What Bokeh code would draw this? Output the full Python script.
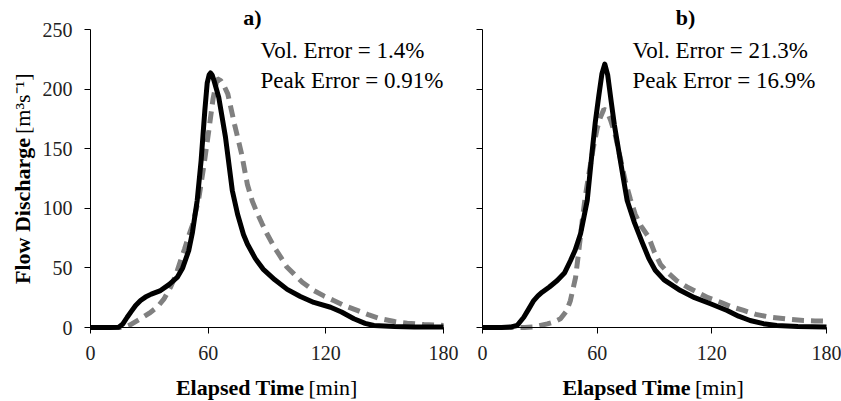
import math
from bokeh.plotting import figure
from bokeh.models import Label, Range1d, FixedTicker
from bokeh.layouts import row
from bokeh.embed import file_html
from bokeh.resources import INLINE

# ---------------- data ----------------
x_ticks = [0, 60, 120, 180]
y_ticks = [0, 50, 100, 150, 200, 250]

a_obs_t = [0, 10, 14.4, 16.5, 18.7, 21, 23, 25.5, 28, 31, 35.7, 40, 44.2, 47, 50.1, 52, 54.4, 56.4, 58.3,
           59.5, 60.5, 61.2, 62, 63, 65.4, 68.8, 72.3, 75, 78, 80, 84, 88, 94, 100.3, 107, 113.9, 122.4,
           128, 134.3, 140, 144.5, 155, 165, 180]
a_obs_q = [0, 0, 0.3, 3, 8.6, 14, 18.5, 22.6, 25.5, 28, 31, 36, 42, 50, 64.6, 80, 106.5, 140, 182,
           205, 212, 213.5, 212, 207, 193, 160, 115, 95, 78, 70, 58, 49, 40, 32, 26, 21, 17,
           13, 7.3, 3.5, 1.7, 0.8, 0.5, 0.5]

a_sim_t = [0, 14, 17, 20, 25.5, 30, 34, 37.5, 40.8, 43.5, 45.9, 48, 50.1, 52, 55.2, 58, 60.3, 62.5, 64.6,
           66.5, 68, 70, 73.5, 77, 80, 82.5, 85, 87.5, 90, 93.5, 97, 100, 103.7, 108, 113.9, 119, 124,
           130, 136, 142, 148, 155, 161.5, 170, 180]
a_sim_q = [0, 0, 0, 2, 7.3, 12, 17, 24, 33.8, 44, 56, 66, 77, 86, 108, 138, 165, 192, 208.6,
           207, 203, 196, 170, 146, 120, 106, 96, 87, 78.6, 68, 59, 51, 45, 38, 31, 26.5, 22.6,
           18, 14.3, 10.5, 7.3, 5, 3.6, 2.5, 1.7]

b_obs_t = [0, 10, 15, 18.1, 21.6, 24, 26.8, 29, 31.2, 35, 39.1, 43, 46, 48.5, 51.3, 53, 54.8, 57.4, 59,
           60.9, 62.5, 64, 65.5, 67.3, 69, 71.3, 73.5, 75.7, 79.5, 83.4, 87, 90.4, 95, 103.6, 111, 119.3,
           128, 134, 140, 147, 154, 165, 180]
b_obs_q = [0, 0, 0.5, 1.7, 8.6, 15, 22.6, 26.5, 29.6, 34, 39.4, 46, 56, 65, 78.6, 92, 106.5, 148, 172,
           195, 213, 221, 212, 190, 170, 148, 127, 106.5, 88, 72, 58, 48, 40, 31, 25, 19.9,
           14.3, 9.5, 5.9, 3.2, 1.7, 0.8, 0.5]

b_sim_t = [0, 20, 22, 27, 33.9, 37, 40.8, 44, 46, 48.7, 50.4, 52.2, 53.7, 56, 58, 60, 61.6, 63.5, 65, 67,
           69.4, 72, 74.7, 77.3, 79.9, 83, 86.9, 90, 93.1, 97, 101.9, 107, 112.4, 118, 124.6, 130, 136.7,
           143, 150.7, 160, 168, 174, 180]
b_sim_q = [0, 0, 0, 0.5, 3, 4.5, 7.3, 14, 22.6, 42, 64.6, 89.8, 109, 132, 151, 167, 176, 183, 182, 174,
           162, 143, 123, 108, 95, 85, 76, 63, 53, 46, 39, 34, 29.6, 25, 21.2, 17.5, 14.3,
           11, 8.6, 7, 5.9, 5.5, 5.3]

a_texts = ["Vol. Error = 1.4%", "Peak Error = 0.91%"]
b_texts = ["Vol. Error = 21.3%", "Peak Error = 16.9%"]

SERIF = "Liberation Serif"
H = 401
PLOT_TOP, PLOT_BOTTOM = 29, 327          # pixel rows of y=250 and y=0
SY = (PLOT_BOTTOM - PLOT_TOP) / 250.0


def make_panel(width, left_px, right_px, obs_t, obs_q, sim_t, sim_q, show_y_labels):
    sx = (right_px - left_px) / 180.0
    xr = Range1d(-left_px / sx, (width - left_px) / sx)
    yr = Range1d(-(H - PLOT_BOTTOM) / SY, PLOT_BOTTOM / SY)
    p = figure(width=width, height=H, x_range=xr, y_range=yr,
               output_backend="svg", toolbar_location=None,
               min_border_left=0, min_border_right=0, min_border_top=0, min_border_bottom=0)
    p.outline_line_color = None
    p.xgrid.grid_line_color = None
    p.ygrid.grid_line_color = None
    p.background_fill_color = "white"
    p.border_fill_color = "white"
    p.xaxis.fixed_location = 0
    p.yaxis.fixed_location = 0
    p.xaxis.bounds = (0, 180)
    p.yaxis.bounds = (0, 250)
    for ax in (p.xaxis[0], p.yaxis[0]):
        ax.axis_line_color = "black"
        ax.axis_line_width = 1
        ax.major_tick_line_color = "black"
        ax.major_tick_in = 0
        ax.major_tick_out = 6
        ax.minor_tick_line_color = None
        ax.major_label_text_font = SERIF
        ax.major_label_text_font_size = "20px"
        ax.major_label_text_color = "#222222"
    p.xaxis.ticker = FixedTicker(ticks=x_ticks)
    p.yaxis.ticker = FixedTicker(ticks=y_ticks)
    p.xaxis.major_label_standoff = 12
    if show_y_labels:
        p.yaxis.major_label_standoff = 12
    else:
        p.yaxis.major_label_overrides = {v: "" for v in y_ticks}
        p.yaxis.major_label_standoff = 0

    p.line(sim_t, sim_q, line_color="#808080", line_width=5, line_dash="12 7")
    p.line(obs_t, obs_q, line_color="black", line_width=5, line_join="round")
    return p, sx


pa, sxa = make_panel(460, 90, 443, a_obs_t, a_obs_q, a_sim_t, a_sim_q, True)
pb, sxb = make_panel(381, 22, 366, b_obs_t, b_obs_q, b_sim_t, b_sim_q, False)


def lab(p, sx, left_px, px, py, text, size, bold=False, align="left", angle=0.0):
    # px, py: pixel position inside the figure (from its top-left corner)
    p.add_layout(Label(x=(px - left_px) / sx, y=(PLOT_BOTTOM - py) / SY, text=text,
                       text_font=SERIF, text_font_size=size,
                       text_font_style="bold" if bold else "normal", text_align=align,
                       text_baseline="middle", angle=angle, text_color="black"))


# panel a
lab(pa, sxa, 90, 252, 17, "a)", "22px", bold=True, align="center")
lab(pa, sxa, 90, 260, 50, a_texts[0], "23px")
lab(pa, sxa, 90, 260, 80, a_texts[1], "23px")
lab(pa, sxa, 90, 304, 387, "Elapsed Time", "22px", bold=True, align="right")
lab(pa, sxa, 90, 308, 387, "[min]", "22px", align="left")
lab(pa, sxa, 90, 22, 137.5, "Flow Discharge", "22px", bold=True, align="right", angle=math.pi / 2)
lab(pa, sxa, 90, 22, 133.5, "[m\u00b3s\u207b\u00b9]", "22px", align="left", angle=math.pi / 2)

# panel b (pixel x measured inside the right figure, which starts at 460)
lab(pb, sxb, 22, 685 - 460, 17, "b)", "22px", bold=True, align="center")
lab(pb, sxb, 22, 632 - 460, 50, b_texts[0], "23px")
lab(pb, sxb, 22, 632 - 460, 80, b_texts[1], "23px")
lab(pb, sxb, 22, 690.5 - 460, 387, "Elapsed Time", "22px", bold=True, align="right")
lab(pb, sxb, 22, 694.5 - 460, 387, "[min]", "22px", align="left")

layout = row(pa, pb)
open("out.html", "w").write(file_html(layout, INLINE))
